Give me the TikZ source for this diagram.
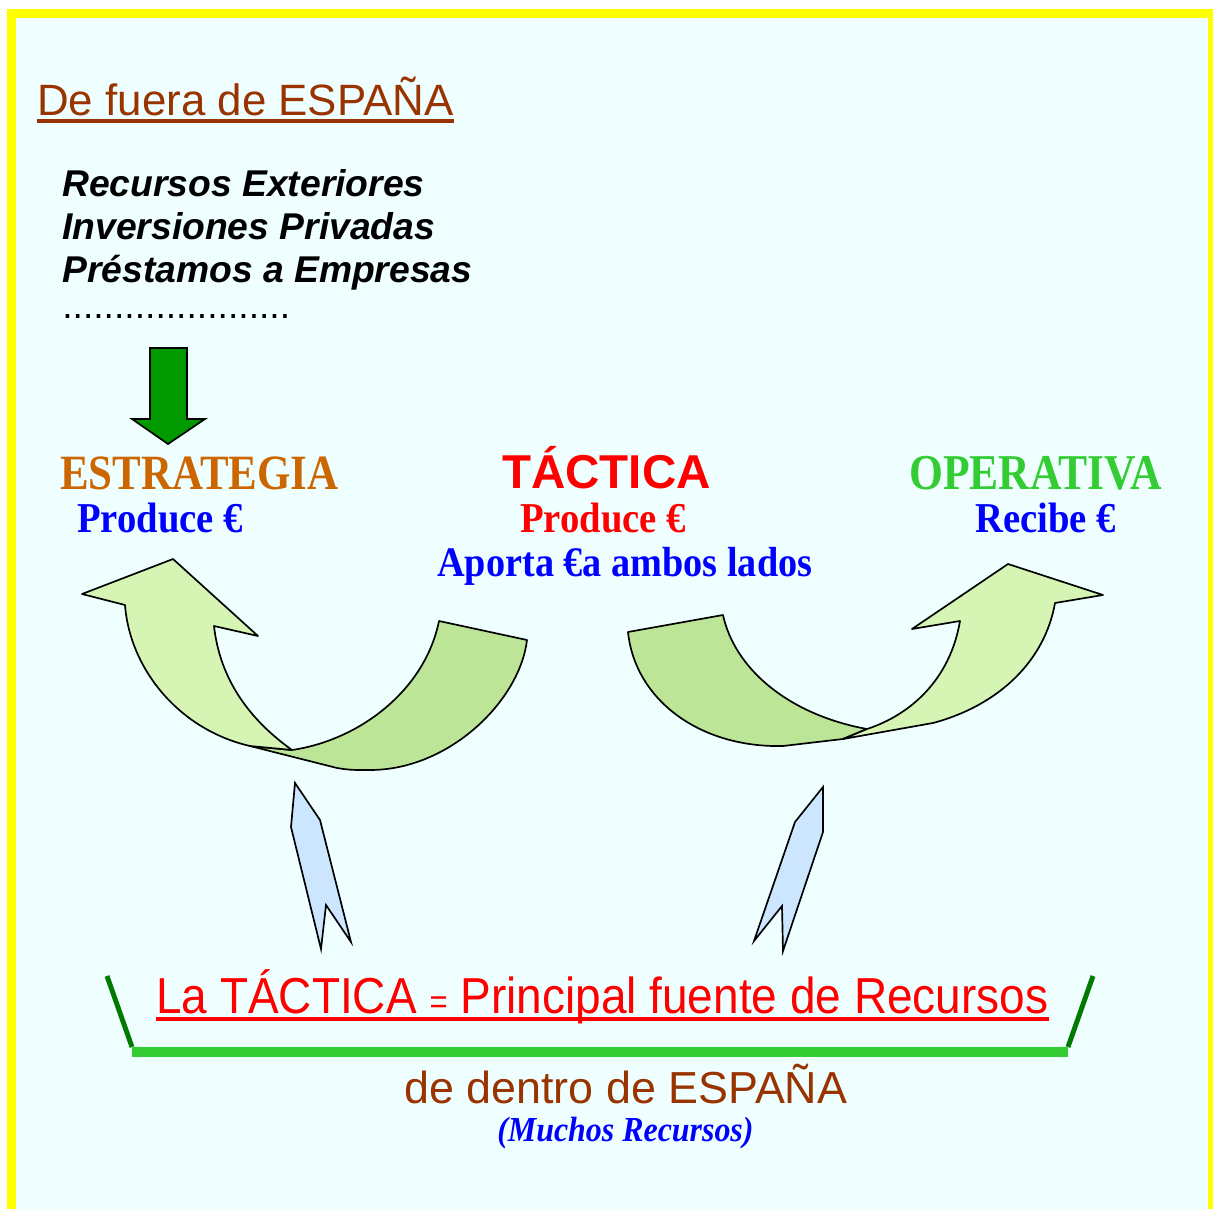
\documentclass[tikz,border=0pt]{standalone}
\usepackage{fontspec}
\setmainfont{Liberation Sans}
\newfontfamily\romanfont{Liberation Serif}
\usepackage{tikz}
\usetikzlibrary{positioning, calc}
\definecolor{FrameYellow}{HTML}{FFFF00}
\definecolor{PageCyan}{HTML}{EFFFFF}
\definecolor{SpainBrown}{HTML}{993300}
\definecolor{StratOrange}{HTML}{CC6600}
\definecolor{OperGreen}{HTML}{33CC33}
\definecolor{ArrowGreen}{HTML}{009900}
\definecolor{BarDark}{HTML}{007A00}
\definecolor{RibbonLight}{HTML}{D6F5B4}
\definecolor{RibbonDark}{HTML}{BDE597}
\definecolor{SpikeBlue}{HTML}{CDE6FF}

\begin{document}
\begin{tikzpicture}[x=0.025cm, y=-0.025cm, every node/.style={inner sep=0pt, anchor=base west}]
    \tikzstyle{sans} = [font=\fontsize{26.5}{30}\selectfont\bfseries\itshape]
    \tikzstyle{head} = [font=\fontsize{30.5}{34}\selectfont\romanfont\bfseries]
    \tikzstyle{sub} = [font=\fontsize{27.5}{32}\selectfont\romanfont\bfseries]
    \tikzstyle{ribbonfront} = [draw=black, line width=1.2pt, fill=RibbonLight, line join=round]
    \tikzstyle{ribbonback} = [draw=black, line width=1.2pt, fill=RibbonDark, line join=round]
    \tikzstyle{spike} = [draw=black, line width=1.2pt, fill=SpikeBlue, line join=miter]

    % frame and page
    \fill[white] (0,0) rectangle (1213,1209);
    \fill[FrameYellow] (7,9) rectangle (1213,1209);
    \fill[PageCyan] (16,18) rectangle (1208,1209);
    \useasboundingbox (0,0) rectangle (1213,1209);

    % outside resources
    \node[text=SpainBrown, font=\fontsize{31.2}{35}\selectfont] (fuera) at (37,116) {De fuera de ESPAÑA};
    \draw[SpainBrown, line width=2.2pt] ($(fuera.base west)+(0,5)$) -- ($(fuera.base east)+(0,5)$);
    \node[sans] (rec1) at (62,196) {Recursos Exteriores};
    \node[sans] (rec2) at (62,239) {Inversiones Privadas};
    \node[sans] (rec3) at (62,282) {Préstamos a Empresas};
    \node[font=\fontsize{26.5}{30}\selectfont] (puntos) at (62,318) {......................};

    % green arrow down
    \draw[fill=ArrowGreen, line width=1.2pt, line join=miter] (150,348) -- (187,348) -- (187,419) -- (205,419) -- (168,444) -- (132,419) -- (150,419) -- cycle;

    % three levels
    \node[head, text=StratOrange] (estrategia) at (60,489) {\scalebox{1}[1.15]{ESTRATEGIA}};
    \node[sub, text=blue] (prodE) at (77,532) {\scalebox{1}[1.1]{Produce €}};
    \node[text=red, font=\fontsize{33.8}{38}\selectfont\bfseries] (tactica) at (502,488) {TÁCTICA};
    \node[sub, text=red] (prodT) at (520,532) {\scalebox{1}[1.1]{Produce €}};
    \node[sub, text=blue, font=\fontsize{27.2}{32}\selectfont\romanfont\bfseries] (aporta) at (437,576) {\scalebox{1}[1.1]{Aporta €a ambos lados}};
    \node[head, text=OperGreen, font=\fontsize{31}{34}\selectfont\romanfont\bfseries] (operativa) at (909,489) {\scalebox{1}[1.15]{OPERATIVA}};
    \node[sub, text=blue] (recibe) at (975,532) {\scalebox{1}[1.1]{Recibe €}};

    % left ribbon arrow
    \path[ribbonback] (439,621) -- (527,640) .. controls (520,700) and (450,770) .. (370,770)
        .. controls (350,770) .. (337,768) -- (250,746) -- (292,750)
        .. controls (360,740) and (425,690) .. (439,621) -- cycle;
    \path[ribbonfront] (292,750) -- (250,746) .. controls (180,730) and (130,670) .. (125,605)
        -- (82,594) -- (173,559) -- (258,636) -- (214,626)
        .. controls (220,680) and (250,720) .. (292,750) -- cycle;

    % right ribbon arrow
    \path[ribbonback] (628,632) -- (723,615) .. controls (735,670) and (790,715) .. (867,729)
        -- (843,739) -- (783,746) .. controls (700,748) and (635,700) .. (628,632) -- cycle;
    \path[ribbonfront] (843,739) -- (933,723) .. controls (1000,705) and (1045,660) .. (1055,603)
        -- (1103,595) -- (1008,564) -- (912,629) -- (960,621)
        .. controls (950,680) and (910,715) .. (867,729) -- cycle;

    % blue spikes
    \path[spike] (295,783) -- (320,820) -- (351,942) -- (326,905) -- (321,949) -- (291,827) -- cycle;
    \path[spike] (823,787) -- (823,832) -- (783,951) -- (782,906) -- (754,941) -- (795,822) -- cycle;

    % inside resources
    \node[text=red, font=\fontsize{32.7}{36}\selectfont] (principal) at (156,1013)
        {\scalebox{1}[1.1]{La TÁCTICA {\fontsize{22}{26}\selectfont =} Principal fuente de Recursos}};
    \draw[red, line width=2.2pt] ($(principal.base west)+(0,6)$) -- ($(principal.base east)+(0,6)$);
    \draw[BarDark, line width=3.5pt] (107,976) -- (132,1047);
    \draw[BarDark, line width=3.5pt] (1093,976) -- (1068,1047);
    \draw[OperGreen, line width=7pt] (132,1052) -- (1068,1052);
    \node[text=SpainBrown, font=\fontsize{31.9}{36}\selectfont] (dentro) at (404,1103) {de dentro de ESPAÑA};
    \node[text=blue, font=\fontsize{22.7}{26}\selectfont\romanfont\bfseries\itshape] (muchos) at (497,1141) {\scalebox{1}[1.1]{(Muchos Recursos)}};
\end{tikzpicture}
\end{document}
